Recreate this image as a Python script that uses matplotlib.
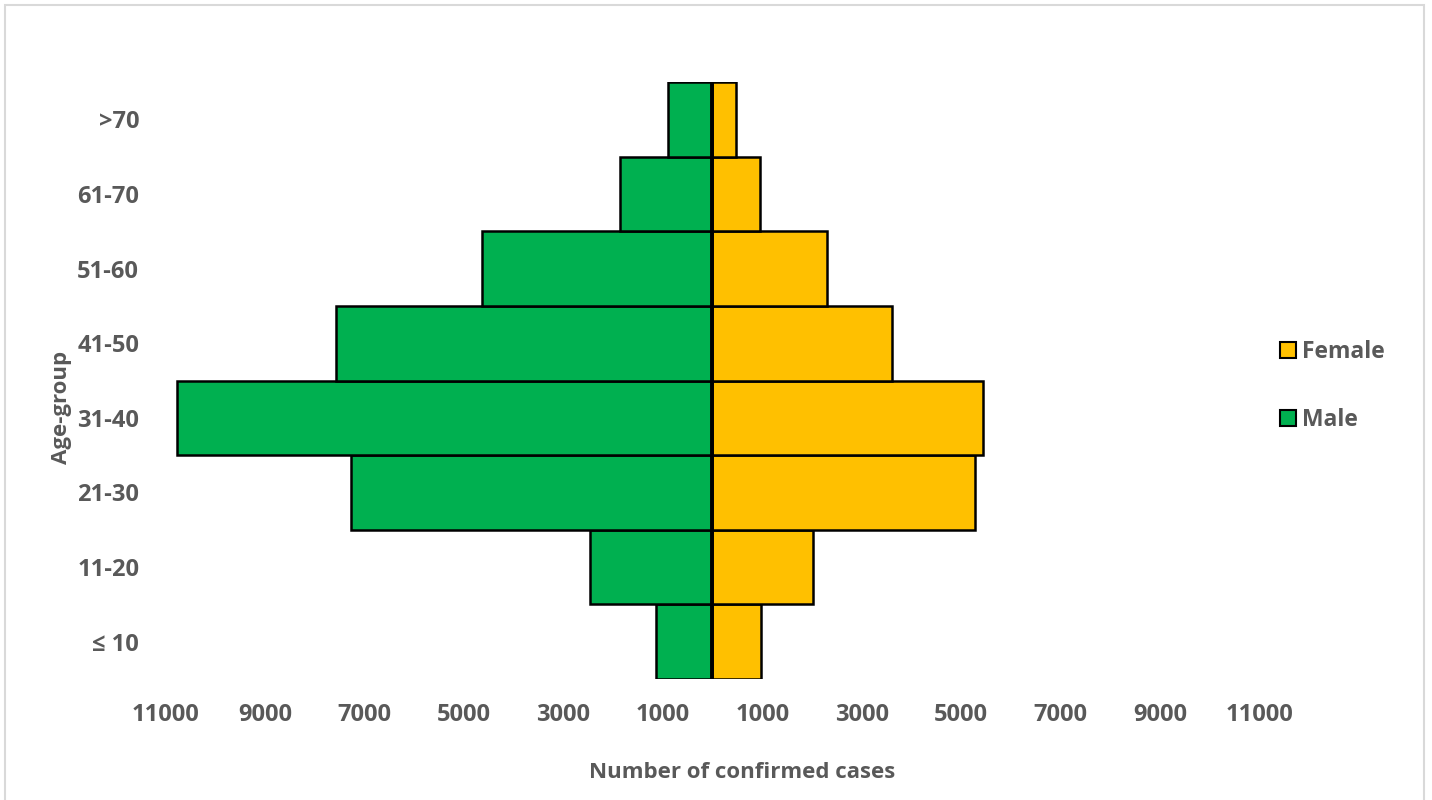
import matplotlib
matplotlib.use("Agg")
import matplotlib.pyplot as plt
from matplotlib.patches import Rectangle
from matplotlib.lines import Line2D

plt.rcParams['font.family'] = ['Open Sans', 'DejaVu Sans']

age_groups = ["\u2264 10", "11-20", "21-30", "31-40", "41-50", "51-60", "61-70", ">70"]
male = [1130, 2460, 7270, 10760, 7570, 4630, 1860, 890]
female = [970, 2030, 5280, 5430, 3600, 2310, 950, 480]
tick_values = [-11000, -9000, -7000, -5000, -3000, -1000, 1000, 3000, 5000, 7000, 9000, 11000]
tick_labels = [str(abs(v)) for v in tick_values]

GREEN = "#00B050"
YELLOW = "#FFC000"
GRAY = "#595959"

W, H = 1432, 800
fig = plt.figure(figsize=(W / 100, H / 100), dpi=100)
fig.patch.set_facecolor("white")

# outer chart border
fig.patches.append(Rectangle((5 / W, -0.01), 1419 / W, 1 - 5 / H + 0.01,
                             transform=fig.transFigure, fill=False,
                             edgecolor="#D9D9D9", linewidth=1.5))

left, right = 165.5, 1259.5
top, bottom = 82, 679
ax = fig.add_axes([left / W, 1 - bottom / H, (right - left) / W, (bottom - top) / H])

y = list(range(len(age_groups)))
ax.barh(y, [-m for m in male], height=1.0, color=GREEN, edgecolor="black", linewidth=1.8, label="Male")
ax.barh(y, female, height=1.0, color=YELLOW, edgecolor="black", linewidth=1.8, label="Female")
ax.axvline(0, color="black", linewidth=2.8)

ax.set_xlim(-11000, 11000)
ax.set_ylim(-0.5, len(age_groups) - 0.5)
ax.set_xticks(tick_values)
ax.set_xticklabels(tick_labels)
ax.set_yticks(y)
ax.set_yticklabels(age_groups)
ax.tick_params(axis="both", length=0, labelsize=17, labelcolor=GRAY)
ax.tick_params(axis="y", pad=19)
ax.tick_params(axis="x", pad=17)
for lab in ax.get_xticklabels() + ax.get_yticklabels():
    lab.set_fontweight("bold")
for s in ax.spines.values():
    s.set_visible(False)

fig.text(742 / W, 1 - 772 / H, "Number of confirmed cases", ha="center", va="center",
         fontsize=16, fontweight="bold", color=GRAY)
fig.text(62 / W, 1 - 407 / H, "Age-group", ha="center", va="center", rotation=90,
         fontsize=16, fontweight="bold", color=GRAY)

handles = [Line2D([], [], linestyle="none", marker="s", markersize=11, markerfacecolor=YELLOW,
                  markeredgecolor="black", markeredgewidth=1.5),
           Line2D([], [], linestyle="none", marker="s", markersize=11, markerfacecolor=GREEN,
                  markeredgecolor="black", markeredgewidth=1.5)]
leg = fig.legend(handles, ["Female", "Male"], loc="center left",
                 bbox_to_anchor=(1258 / W, 1 - 386 / H), frameon=False,
                 handlelength=0.8, handletextpad=0.2, labelspacing=1.9,
                 prop={"size": 16.5, "weight": "bold"})
for t in leg.get_texts():
    t.set_color(GRAY)

fig.savefig("out.png", dpi=100)
